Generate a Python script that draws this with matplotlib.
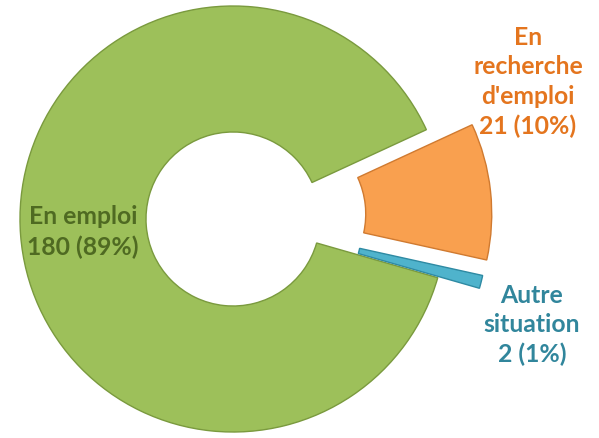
import matplotlib.pyplot as plt

labels = ["En emploi", "En\nrecherche\nd'emploi", "Autre\nsituation"]
counts = [180, 21, 2]
colors = ["#9DC05A", "#F9A04F", "#4FB3CC"]
text_colors = ["#4F6A22", "#E4751E", "#31869C"]
# pull-out distance of each segment, in pixels
explode = [0, 46, 43]

W, H = 599, 439
fig = plt.figure(figsize=(W / 100, H / 100), dpi=100)
ax = fig.add_axes([0, 0, 1, 1])

radius = 213
hole = 87
wedges, _ = ax.pie(
    counts,
    colors=colors,
    explode=explode,
    startangle=-16,
    counterclock=False,
    radius=radius,
    center=(233, H - 220),
    wedgeprops=dict(width=radius - hole),
    frame=True,
)
ax.set_xlim(0, W)
ax.set_ylim(0, H)
ax.set_aspect("equal")
ax.axis("off")

# darker rim around each segment
edge_colors = ["#7A9A3E", "#D07A30", "#2E8AA3"]
for w, ec in zip(wedges, edge_colors):
    w.set_edgecolor(ec)
    w.set_linewidth(1.0)

total = sum(counts)
texts = [f"{lab}\n{c} ({round(100 * c / total)}%)" for lab, c in zip(labels, counts)]

positions = [(83, H - 232), (528, H - 82), (532, H - 325)]
for t, (x, y), col in zip(texts, positions, text_colors):
    ax.text(x, y, t, ha="center", va="center", color=col,
            fontsize=17.8, fontweight="bold", family="Lato",
            linespacing=1.35)

fig.savefig("out.png", dpi=100)
